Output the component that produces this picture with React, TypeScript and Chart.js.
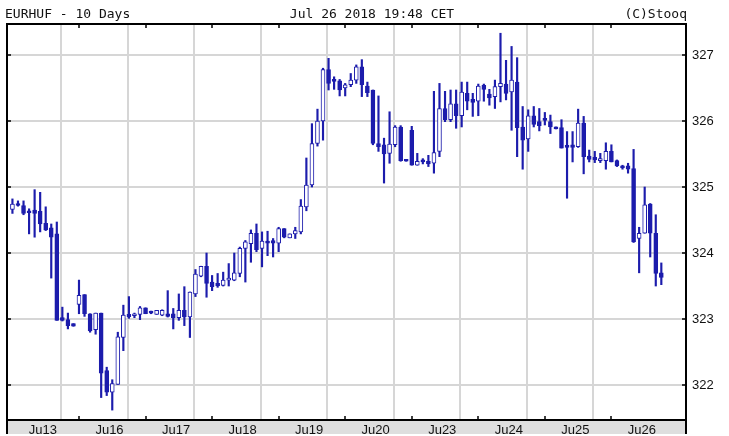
import React, { useEffect, useRef } from "react";
import { Chart, registerables } from "chart.js";

Chart.register(...registerables);

// ---- data (2-hour candles, 12 per day) ----
const dayLabels = ["Ju13", "Ju16", "Ju17", "Ju18", "Ju19", "Ju20", "Ju23", "Ju24", "Ju25", "Ju26"];
const candlesPerDay = 12;

const opens = [
  324.66, 324.74, 324.72, 324.63, 324.65, 324.63, 324.45, 324.38, 324.29, 323.02, 322.99, 322.93,
  323.22, 323.37, 323.08, 322.84, 323.09, 322.22, 321.89, 322.01, 322.72, 323.07, 323.05, 323.07,
  323.17, 323.10, 323.07, 323.06, 323.08, 323.08, 323.02, 323.13, 323.03, 323.38, 323.65, 323.80,
  323.56, 323.54, 323.51, 323.59, 323.59, 323.69, 324.07, 324.14, 324.30, 324.07, 324.18, 324.19,
  324.15, 324.37, 324.23, 324.29, 324.32, 324.70, 325.03, 325.66, 326.00, 326.78, 326.61, 326.61,
  326.50, 326.55, 326.62, 326.82, 326.53, 326.47, 325.66, 325.64, 325.51, 325.64, 325.91, 325.41,
  325.86, 325.33, 325.39, 325.39, 325.36, 325.54, 326.19, 326.02, 326.26, 326.08, 326.42, 326.33,
  326.30, 326.54, 326.41, 326.37, 326.52, 326.56, 326.44, 326.59, 325.91, 325.73, 326.08, 325.99,
  326.02, 325.99, 325.91, 325.90, 325.63, 325.64, 325.61, 325.97, 325.47, 325.45, 325.40, 325.40,
  325.54, 325.40, 325.32, 325.32, 325.28, 324.22, 324.30, 324.74, 324.30, 323.70,
];
const highs = [
  324.82, 324.79, 324.79, 324.67, 324.96, 324.92, 324.70, 324.44, 324.47, 323.18, 323.09, 322.93,
  323.59, 323.37, 323.08, 323.09, 323.09, 322.27, 322.08, 322.80, 323.21, 323.34, 323.09, 323.19,
  323.17, 323.12, 323.13, 323.14, 323.43, 323.16, 323.38, 323.49, 323.41, 323.75, 323.80, 324.00,
  323.66, 323.69, 323.71, 323.84, 324.00, 324.09, 324.19, 324.35, 324.44, 324.32, 324.33, 324.22,
  324.39, 324.37, 324.29, 324.39, 324.81, 325.44, 325.96, 326.18, 326.80, 326.95, 326.67, 326.63,
  326.57, 326.72, 326.85, 326.93, 326.59, 326.47, 326.38, 325.74, 326.14, 325.93, 325.93, 325.41,
  325.92, 325.51, 325.43, 325.48, 326.45, 326.57, 326.45, 326.47, 326.47, 326.59, 326.59, 326.42,
  326.56, 326.56, 326.48, 326.62, 327.33, 326.92, 327.13, 326.96, 326.22, 326.17, 326.22, 326.19,
  326.13, 326.09, 325.91, 326.02, 325.84, 325.84, 326.18, 326.07, 325.56, 325.54, 325.51, 325.67,
  325.64, 325.41, 325.33, 325.36, 325.57, 324.39, 325.00, 324.75, 324.58, 323.85,
];
const lows = [
  324.60, 324.71, 324.58, 324.29, 324.24, 324.32, 324.34, 323.62, 322.98, 322.97, 322.85, 322.89,
  323.08, 323.04, 322.80, 322.77, 321.81, 321.84, 321.62, 322.01, 322.52, 323.01, 323.02, 322.99,
  323.08, 323.08, 323.07, 323.05, 323.03, 322.85, 322.98, 322.90, 322.72, 323.34, 323.64, 323.33,
  323.43, 323.48, 323.50, 323.50, 323.58, 323.64, 323.56, 323.86, 324.02, 323.79, 323.96, 323.94,
  324.02, 324.23, 324.23, 324.22, 324.29, 324.64, 325.00, 325.62, 325.71, 326.47, 326.48, 326.38,
  326.38, 326.52, 326.57, 326.37, 326.37, 325.64, 325.54, 325.06, 325.36, 325.61, 325.39, 325.39,
  325.33, 325.33, 325.35, 325.31, 325.21, 325.46, 325.99, 325.99, 325.89, 325.91, 326.17, 326.07,
  326.08, 326.30, 326.24, 326.19, 326.29, 326.32, 325.86, 325.46, 325.27, 325.54, 325.91, 325.85,
  325.94, 325.81, 325.88, 325.59, 324.83, 325.38, 325.60, 325.20, 325.38, 325.37, 325.37, 325.27,
  325.38, 325.31, 325.27, 325.21, 324.16, 323.70, 324.30, 323.94, 323.50, 323.52,
];
const closes = [
  324.74, 324.72, 324.60, 324.61, 324.60, 324.44, 324.35, 324.24, 322.98, 322.98, 322.90, 322.89,
  323.36, 323.08, 322.82, 323.09, 322.18, 321.89, 322.02, 322.73, 323.06, 323.03, 323.06, 323.17,
  323.08, 323.09, 323.13, 323.13, 323.04, 323.02, 323.13, 323.03, 323.41, 323.68, 323.80, 323.54,
  323.49, 323.50, 323.59, 323.61, 323.70, 324.07, 324.17, 324.30, 324.05, 324.18, 324.15, 324.15,
  324.37, 324.24, 324.29, 324.34, 324.71, 325.03, 325.66, 326.00, 326.78, 326.57, 326.60, 326.47,
  326.55, 326.62, 326.82, 326.55, 326.43, 325.66, 325.61, 325.50, 325.65, 325.91, 325.40, 325.39,
  325.33, 325.39, 325.38, 325.35, 325.52, 326.19, 326.02, 326.26, 326.08, 326.44, 326.30, 326.28,
  326.53, 326.48, 326.35, 326.52, 326.57, 326.42, 326.62, 325.90, 325.71, 326.08, 325.95, 325.93,
  326.01, 325.91, 325.88, 325.59, 325.60, 325.60, 325.97, 325.46, 325.42, 325.41, 325.43, 325.54,
  325.38, 325.32, 325.29, 325.27, 324.17, 324.30, 324.73, 324.30, 323.69, 323.63,
];

const yTicks = [322, 323, 324, 325, 326, 327];
const yMin = 321.47;
const yMax = 327.47;
const xMin = -0.98;
const xMax = 121.45;

const titleText = "EURHUF - 10 Days";
const stampText = "Jul 26 2018 19:48 CET";
const creditText = "(C)Stooq";

const BLUE = "rgb(28,28,172)";
const GRID = "#d6d6d6";

const gridSlots = dayLabels.slice(1).map((_, i) => (i + 1) * candlesPerDay);
const labelSlots = dayLabels.map((_, i) => i * candlesPerDay + 5.5);

export default function App() {
  const ref = useRef<HTMLCanvasElement | null>(null);

  useEffect(() => {
    const canvas = ref.current;
    if (!canvas) return;

    const framePlugin = {
      id: "frame",
      beforeDraw(chart: any) {
        const { ctx, chartArea } = chart;
        ctx.save();
        ctx.fillStyle = "#fff";
        ctx.fillRect(0, 0, chart.width, chart.height);
        ctx.fillStyle = "#dedede";
        ctx.fillRect(chartArea.left, chartArea.bottom, chartArea.right - chartArea.left, 14);
        ctx.restore();
      },
      afterDraw(chart: any) {
        const { ctx, chartArea, scales } = chart;
        const { left, right, top, bottom } = chartArea;
        ctx.save();
        ctx.strokeStyle = "#000";
        ctx.lineWidth = 2;
        ctx.beginPath();
        ctx.moveTo(left, bottom + 14);
        ctx.lineTo(left, top);
        ctx.lineTo(right, top);
        ctx.lineTo(right, bottom + 14);
        ctx.moveTo(left, bottom);
        ctx.lineTo(right, bottom);
        ctx.stroke();

        ctx.lineWidth = 1.5;
        ctx.beginPath();
        gridSlots.forEach((s) => {
          const px = Math.round(scales.x.getPixelForValue(s));
          ctx.moveTo(px, top);
          ctx.lineTo(px, top + 4);
          ctx.moveTo(px, bottom);
          ctx.lineTo(px, bottom - 4);
        });
        yTicks.forEach((v) => {
          const py = Math.round(scales.y.getPixelForValue(v));
          ctx.moveTo(left, py);
          ctx.lineTo(left + 4, py);
          ctx.moveTo(right, py);
          ctx.lineTo(right - 4, py);
        });
        ctx.stroke();

        ctx.fillStyle = "#111";
        ctx.font = '13px "DejaVu Sans Mono", monospace';
        ctx.textBaseline = "alphabetic";
        ctx.textAlign = "left";
        ctx.fillText(titleText, 5, 18);
        ctx.textAlign = "center";
        ctx.fillText(stampText, 372, 18);
        ctx.textAlign = "right";
        ctx.fillText(creditText, right + 1, 18);
        ctx.restore();
      },
    };

    const chart = new Chart(canvas, {
      type: "bar",
      data: {
        datasets: [
          {
            label: "body",
            order: 1,
            grouped: false,
            data: opens.map((o, i) => ({ x: i, y: [Math.min(o, closes[i]), Math.max(o, closes[i])] })) as any,
            backgroundColor: opens.map((o, i) => (closes[i] > o ? "#ffffff" : BLUE)),
            borderColor: BLUE,
            borderWidth: 1,
            borderSkipped: false,
            barThickness: 4,
            minBarLength: 2,
          },
          {
            label: "wick",
            order: 2,
            grouped: false,
            data: highs.map((h, i) => ({ x: i, y: [lows[i], h] })) as any,
            backgroundColor: BLUE,
            borderWidth: 0,
            barThickness: 1.5,
            minBarLength: 1,
          },
        ],
      },
      options: {
        animation: false,
        responsive: false,
        devicePixelRatio: 1,
        layout: { padding: { left: 7, top: 24, right: 0, bottom: 0 } },
        plugins: { legend: { display: false }, tooltip: { enabled: false }, title: { display: false } },
        scales: {
          x: {
            type: "linear",
            position: "bottom",
            min: xMin,
            max: xMax,
            offset: false,
            border: { display: false },
            grid: {
              drawTicks: false,
              lineWidth: 2,
              color: (ctx: any) =>
                ctx.tick && gridSlots.includes(ctx.tick.value) ? GRID : "rgba(0,0,0,0)",
            },
            afterBuildTicks: (scale: any) => {
              scale.ticks = [...gridSlots, ...labelSlots]
                .sort((a, b) => a - b)
                .map((v) => ({ value: v }));
            },
            afterFit: (scale: any) => {
              scale.height = 16;
            },
            ticks: {
              autoSkip: false,
              maxRotation: 0,
              minRotation: 0,
              padding: 3,
              color: "#111",
              font: { family: '"Liberation Sans", Arial, sans-serif', size: 13 },
              callback: (v: any) => {
                const idx = labelSlots.indexOf(Number(v));
                return idx >= 0 ? dayLabels[idx] : "";
              },
            },
          },
          y: {
            type: "linear",
            position: "right",
            min: yMin,
            max: yMax,
            border: { display: false },
            grid: { drawTicks: false, lineWidth: 2, color: GRID },
            afterBuildTicks: (scale: any) => {
              scale.ticks = yTicks.map((v) => ({ value: v }));
            },
            afterFit: (scale: any) => {
              scale.width = 43;
            },
            ticks: {
              padding: 6,
              color: "#111",
              font: { family: '"Liberation Sans", Arial, sans-serif', size: 13 },
              callback: (v: any) => String(v),
            },
          },
        },
      },
      plugins: [framePlugin],
    });

    return () => chart.destroy();
  }, []);

  return (
    <div style={{ position: "fixed", left: 0, top: 0, width: 729, height: 436, background: "#fff" }}>
      <canvas ref={ref} width={729} height={436} style={{ display: "block" }} />
    </div>
  );
}
